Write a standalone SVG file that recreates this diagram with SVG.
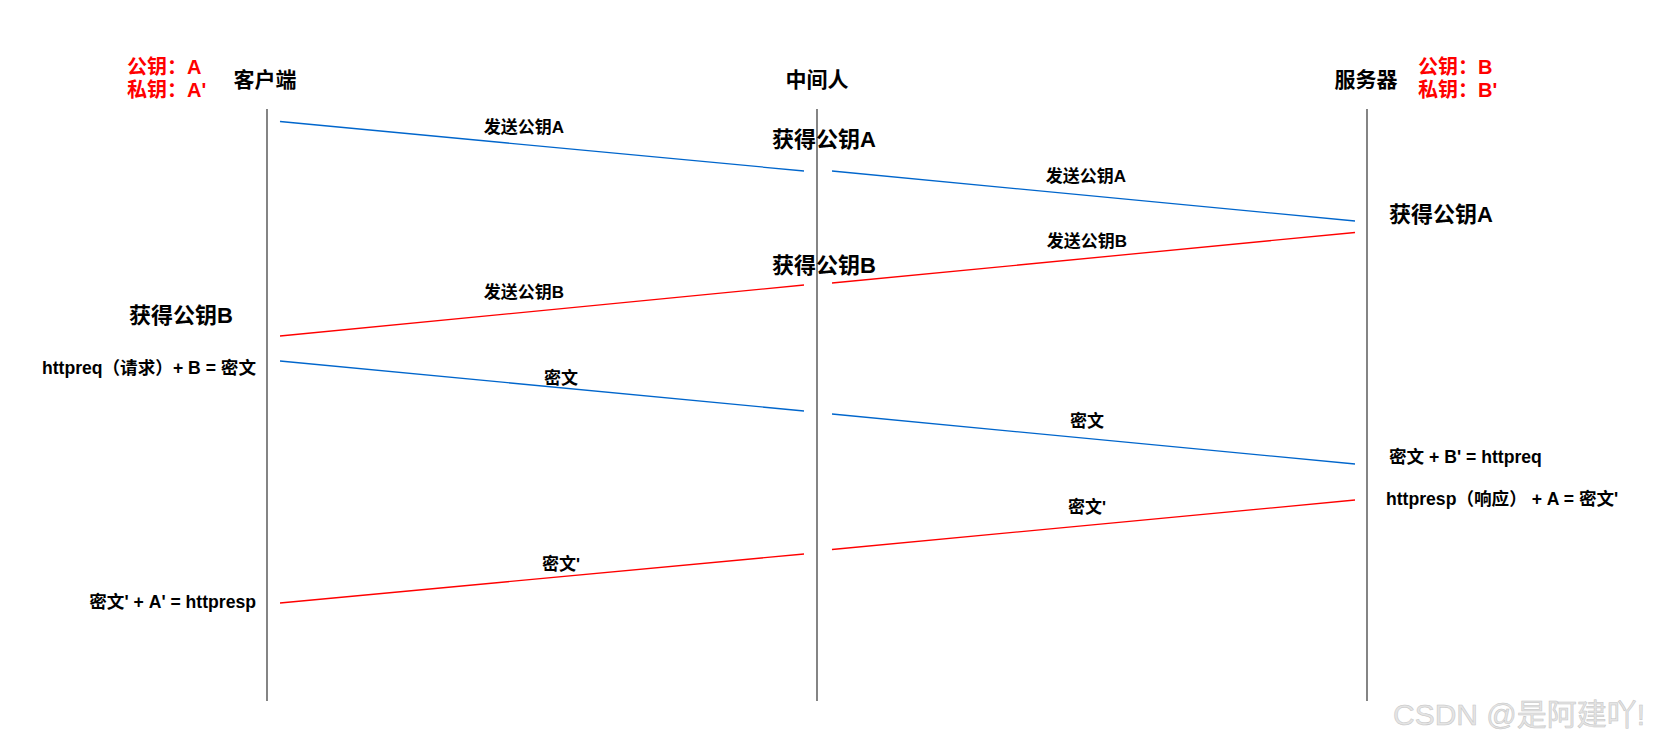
<svg xmlns="http://www.w3.org/2000/svg" width="1657" height="744" viewBox="0 0 1657 744">
<style>
text{font-family:"Liberation Sans","Noto Sans CJK SC",sans-serif;font-weight:bold;fill:#000}
.h{font-size:21px;text-anchor:middle}
.k{font-size:20px;fill:#ff0000}
.m{font-size:17px;text-anchor:middle}
.g{font-size:22px;text-anchor:middle}
.t{font-size:17.6px}
.life{stroke:#666;stroke-width:1.6}
.b{stroke:#0066cc;stroke-width:1.3}
.r{stroke:#ff0000;stroke-width:1.3}
.wm{font-size:30px;font-weight:normal;fill:#e4e4e4;stroke:#c4c4c4;stroke-width:0.5}
</style>
<rect width="1657" height="744" fill="#fff"/>
<g id="client">
<line class="life" x1="267" y1="109" x2="267" y2="701"/>
<text class="h" x="265" y="87">客户端</text>
<text class="k" x="127" y="74">公钥：A</text>
<text class="k" x="127" y="97">私钥：A'</text>
<text class="g" x="181" y="323">获得公钥B</text>
<text class="t" x="256" y="374" text-anchor="end">httpreq（请求）+ B = 密文</text>
<text class="t" x="256" y="608" text-anchor="end">密文' + A' = httpresp</text>
</g>
<g id="middle">
<line class="life" x1="817" y1="109" x2="817" y2="701"/>
<text class="h" x="817" y="87">中间人</text>
<text class="g" x="824" y="147">获得公钥A</text>
<text class="g" x="824" y="273">获得公钥B</text>
</g>
<g id="server">
<line class="life" x1="1367" y1="109" x2="1367" y2="701"/>
<text class="h" x="1366" y="87">服务器</text>
<text class="k" x="1418" y="74">公钥：B</text>
<text class="k" x="1418" y="97">私钥：B'</text>
<text class="g" x="1441" y="222">获得公钥A</text>
<text class="t" x="1389" y="463">密文 + B' = httpreq</text>
<text class="t" x="1386" y="505">httpresp（响应） + A = 密文'</text>
</g>
<g id="connectors">
<line class="b" x1="280" y1="121.5" x2="804" y2="171"/>
<line class="b" x1="832" y1="171" x2="1355" y2="221"/>
<line class="r" x1="1355" y1="232.5" x2="832" y2="283"/>
<line class="r" x1="804" y1="285" x2="280" y2="336"/>
<line class="b" x1="280" y1="361" x2="804" y2="411"/>
<line class="b" x1="832" y1="414" x2="1355" y2="464"/>
<line class="r" x1="1355" y1="500" x2="832" y2="549.5"/>
<line class="r" x1="804" y1="554" x2="280" y2="603"/>
<text class="m" x="524" y="133">发送公钥A</text>
<text class="m" x="1086" y="182">发送公钥A</text>
<text class="m" x="1087" y="247">发送公钥B</text>
<text class="m" x="524" y="298">发送公钥B</text>
<text class="m" x="561" y="384">密文</text>
<text class="m" x="1087" y="427">密文</text>
<text class="m" x="1087" y="513">密文'</text>
<text class="m" x="561" y="570">密文'</text>
</g>
<text class="wm" x="1393" y="725">CSDN @是阿建吖!</text>
</svg>
